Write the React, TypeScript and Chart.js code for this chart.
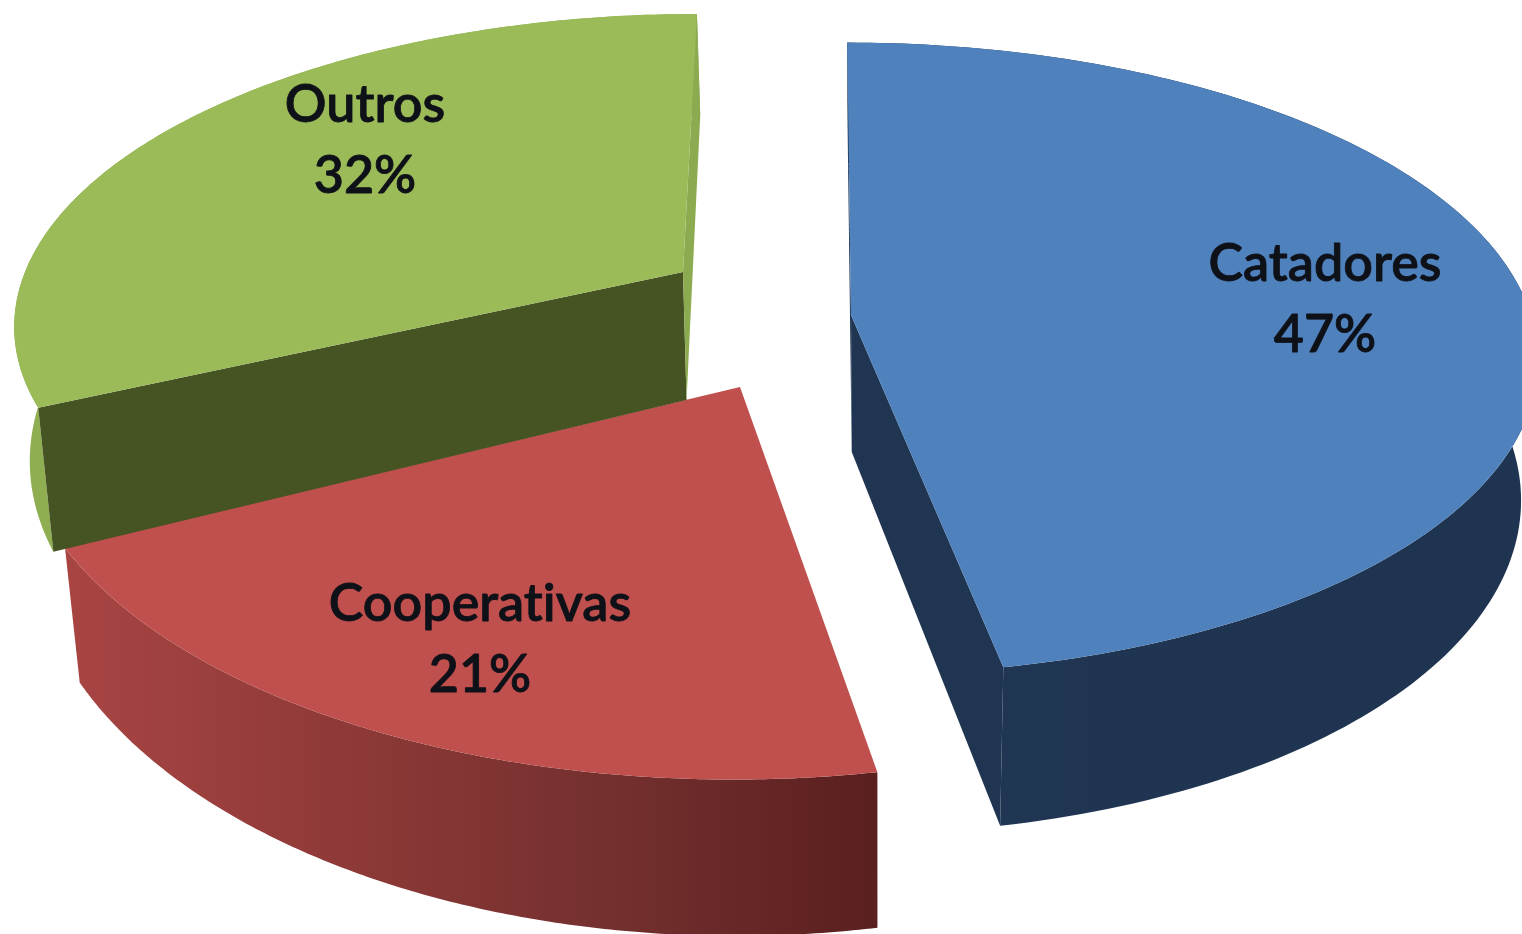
import React, { useEffect, useRef } from "react";
import { Chart, registerables } from "chart.js";

Chart.register(...registerables);

const categories = ["Catadores", "Cooperativas", "Outros"];
const shares = [47, 21, 32];

const topColors = ["#4f81bd", "#c0504d", "#9bbb59"];
// Faces at the two radial cuts of a wedge; null where the cut faces away from the viewer.
const startCutColors: (string | null)[] = ["#1f3552", null, "#465323"];
const endCutColors: (string | null)[] = ["#1f3552", null, "#8caa50"];
const wallStops = [
  ["#213856", "#1f3552", "#1f3450", "#1f3450"],
  ["#a84543", "#8f3a38", "#74302e", "#5a1f1f"],
  ["#8fae52", "#8fae52", "#8fae52", "#8fae52"],
];

// Perspective pose of each exploded slice: apex position, radii, foreshortening and extrusion.
const poses = [
  { ax: 851, ay: 315, a: 680, b: 310, k: 0.138, skew: 0.014, depth: 137, depthK: 0.138, converge: 0.026 },
  { ax: 740, ay: 387, a: 723, b: 368, k: 0.0625, skew: -0.018, depth: 122, depthK: 0.22, converge: 0.018 },
  { ax: 683, ay: 272, a: 658, b: 298, k: 0.155, skew: -0.054, depth: 128, depthK: 0.26, converge: 0.018 },
];
const vanishingX = 880;

const labelAnchors = [
  { x: 1325, y: 281 },
  { x: 480, y: 621 },
  { x: 365, y: 122 },
];
const lineGap = 71;

type Pose = (typeof poses)[number];
type Pt = [number, number];

function project(p: Pose, u: number, v: number, lower: boolean): Pt {
  const w = 1 - p.k * v;
  const dy = (p.b * v) / w;
  let x = p.ax + (p.a * u) / w + p.skew * dy;
  let y = p.ay + dy;
  if (lower) {
    y += p.depth / (1 - p.depthK * v);
    x += (vanishingX - x) * p.converge;
  }
  return [x, y];
}

function fillPoly(ctx: CanvasRenderingContext2D, pts: Pt[], fill: string | CanvasGradient) {
  ctx.beginPath();
  pts.forEach(([x, y], i) => (i ? ctx.lineTo(x, y) : ctx.moveTo(x, y)));
  ctx.closePath();
  ctx.fillStyle = fill;
  ctx.fill();
}

function sampleArc(p: Pose, start: number, end: number, lower: boolean): Pt[] {
  const out: Pt[] = [];
  const steps = 160;
  for (let i = 0; i <= steps; i++) {
    const t = start + ((end - start) * i) / steps;
    out.push(project(p, Math.cos(t), Math.sin(t), lower));
  }
  return out;
}

// Extrudes each arc element of the pie into a tilted 3D wedge.
const extrudedPie = {
  id: "extrudedPie",
  beforeDatasetsDraw(chart: Chart) {
    const ctx = chart.ctx;
    const arcs = chart.getDatasetMeta(0).data as any[];
    arcs.forEach((arc, i) => {
      const p = poses[i];
      const { startAngle, endAngle } = arc;
      const topRim = sampleArc(p, startAngle, endAngle, false);
      const lowRim = sampleArc(p, startAngle, endAngle, true);
      const apexTop = project(p, 0, 0, false);
      const apexLow = project(p, 0, 0, true);
      const last = topRim.length - 1;

      // Outer wall, shaded from left to right
      const xs = topRim.map((q) => q[0]);
      const grad = ctx.createLinearGradient(Math.min(...xs), 0, Math.max(...xs), 0);
      wallStops[i].forEach((c, s) => grad.addColorStop(s / (wallStops[i].length - 1), c));
      fillPoly(ctx, [...topRim, ...lowRim.slice().reverse()], grad);

      // Radial cut faces
      const startCut = startCutColors[i];
      if (startCut) fillPoly(ctx, [apexTop, topRim[0], lowRim[0], apexLow], startCut);
      const endCut = endCutColors[i];
      if (endCut) fillPoly(ctx, [apexTop, topRim[last], lowRim[last], apexLow], endCut);

      // Top surface
      fillPoly(ctx, [apexTop, ...topRim], topColors[i]);
    });
    return false;
  },
  afterDraw(chart: Chart) {
    const ctx = chart.ctx as any;
    ctx.save();
    ctx.font = '600 52px Lato, "Open Sans", sans-serif';
    ctx.letterSpacing = "0.01px";
    ctx.fillStyle = "#0f1118";
    ctx.strokeStyle = "#0f1118";
    ctx.lineWidth = 0.8;
    ctx.lineJoin = "round";
    ctx.textAlign = "center";
    ctx.textBaseline = "alphabetic";
    categories.forEach((name, i) => {
      const { x, y } = labelAnchors[i];
      [name, `${shares[i]}%`].forEach((line, row) => {
        ctx.fillText(line, x, y + row * lineGap);
        ctx.strokeText(line, x, y + row * lineGap);
      });
    });
    ctx.restore();
  },
};

export default function App() {
  const ref = useRef<HTMLCanvasElement>(null);
  useEffect(() => {
    const chart = new Chart(ref.current!, {
      type: "pie",
      data: {
        labels: categories,
        datasets: [{ data: shares, backgroundColor: topColors, borderWidth: 0 }],
      },
      options: {
        animation: false,
        responsive: false,
        plugins: { legend: { display: false }, tooltip: { enabled: false } },
      },
      plugins: [extrudedPie as any],
    });
    return () => chart.destroy();
  }, []);
  return (
    <div style={{ position: "fixed", left: 0, top: 0, width: 1522, height: 934, background: "#fff" }}>
      <canvas ref={ref} width={1522} height={934} style={{ display: "block" }} />
    </div>
  );
}
